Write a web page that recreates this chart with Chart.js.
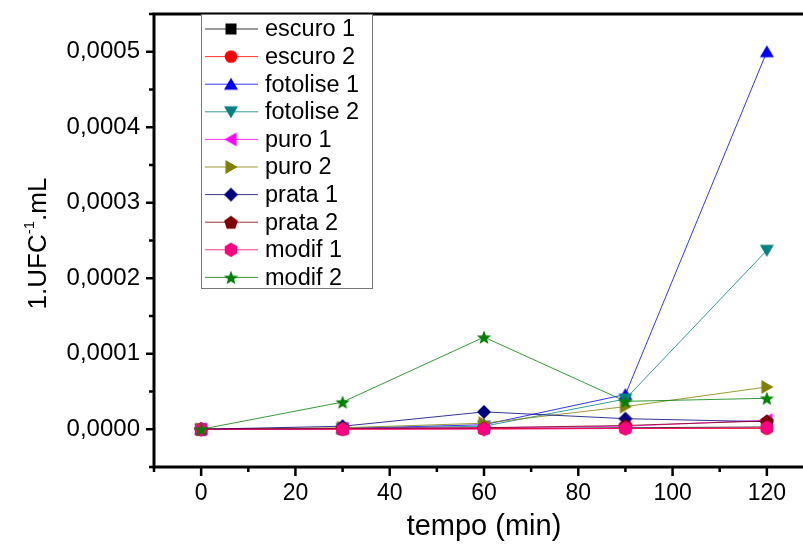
<!DOCTYPE html>
<html><head><meta charset="utf-8">
<script src="https://cdn.jsdelivr.net/npm/chart.js@4/dist/chart.umd.min.js"></script>
<style>html,body{margin:0;padding:0;overflow:hidden;background:#fff}#wrap{width:830px;height:547px;position:relative}</style>
</head><body><div id="wrap"><canvas id="c" width="830" height="547"></canvas></div>
<script>
const times = [0, 30, 60, 90, 120];
const seriesLabels = ['escuro 1','escuro 2','fotolise 1','fotolise 2','puro 1','puro 2','prata 1','prata 2','modif 1','modif 2'];
const escuro1   = [0, 0.000001, 0.000001, 0.000002, 0.000003];
const escuro2   = [0, 0, 0.000001, 0.000001, 0.000001];
const fotolise1 = [0, 0.000001, 0.000006, 0.000046, 0.000500];
const fotolise2 = [0, 0.000001, 0.000004, 0.000040, 0.000237];
const puro1     = [0, 0.000001, 0.000002, 0.000004, 0.000012];
const puro2     = [0, 0.000002, 0.000008, 0.000030, 0.000056];
const prata1    = [0, 0.000004, 0.000023, 0.000014, 0.000010];
const prata2    = [0, 0.000001, 0.000002, 0.000005, 0.000011];
const modif1    = [0, 0, 0, 0.000001, 0.000002];
const modif2    = [0, 0.000036, 0.000122, 0.000037, 0.000041];
const xTicks = [0, 20, 40, 60, 80, 100, 120];
const xMinorTicks = [-10, 10, 30, 50, 70, 90, 110, 130];
const yTicks = [0, 0.0001, 0.0002, 0.0003, 0.0004, 0.0005];
const yMinorTicks = [-0.00005, 0.00005, 0.00015, 0.00025, 0.00035, 0.00045, 0.00055];
const xTitle = 'tempo (min)';

const seriesValues = [escuro1, escuro2, fotolise1, fotolise2, puro1, puro2, prata1, prata2, modif1, modif2];
const colors = ['#000000','#ff0000','#0000ff','#008080','#ff00ff','#808000','#000080','#800000','#ff0080','#008000'];
const shapes = ['square','circle','triUp','triDown','triLeft','triRight','diamond','pentagon','hexagon','star'];

function poly(ctx, pts){ctx.beginPath();pts.forEach((p,i)=>i?ctx.lineTo(p[0],p[1]):ctx.moveTo(p[0],p[1]));ctx.closePath();ctx.fill();}
function regular(n, r, start, cx, cy){const p=[];for(let i=0;i<n;i++){const a=start+i*2*Math.PI/n;p.push([cx+r*Math.cos(a),cy+r*Math.sin(a)]);}return p;}
function makeMarker(shape, color){
  const s=16, c=document.createElement('canvas'); c.width=s; c.height=s;
  const ctx=c.getContext('2d'); ctx.fillStyle=color; const m=8;
  switch(shape){
    case 'square': ctx.fillRect(m-5.5,m-5.5,11,11); break;
    case 'circle': ctx.beginPath(); ctx.arc(m,m,6.3,0,2*Math.PI); ctx.fill(); break;
    case 'triUp': poly(ctx,[[m,1.5],[15,13.5],[1,13.5]]); break;
    case 'triDown': poly(ctx,[[1,2.5],[15,2.5],[m,14.5]]); break;
    case 'triLeft': poly(ctx,[[1.5,m],[13.5,1],[13.5,15]]); break;
    case 'triRight': poly(ctx,[[14.5,m],[2.5,1],[2.5,15]]); break;
    case 'diamond': poly(ctx,[[m,1],[15,m],[m,15],[1,m]]); break;
    case 'pentagon': poly(ctx,regular(5,7.2,-Math.PI/2,m,m+0.6)); break;
    case 'hexagon': poly(ctx,regular(6,7.2,-Math.PI/2,m,m)); break;
    case 'star': {const p=[];for(let i=0;i<10;i++){const r=i%2?3.2:7.5;const a=-Math.PI/2+i*Math.PI/5;p.push([m+r*Math.cos(a),m+0.8+r*Math.sin(a)]);}poly(ctx,p);} break;
  }
  return c;
}
const markers = shapes.map((s,i)=>makeMarker(s,colors[i]));

const datasets = seriesLabels.map((lab,i)=>({
  label: lab,
  data: times.map((t,j)=>({x:t, y:seriesValues[i][j]})),
  borderColor: colors[i],
  backgroundColor: colors[i],
  borderWidth: 0.8,
  pointStyle: markers[i],
  pointRadius: 7,
  order: seriesLabels.length - i,
  tension: 0
}));

const FONT = '"Liberation Sans", Arial, sans-serif';

const decor = {
  id: 'decor',
  afterDraw(chart){
    const ctx = chart.ctx, ca = chart.chartArea;
    const xs = chart.scales.x, ys = chart.scales.y;
    ctx.save();
    ctx.strokeStyle = '#000'; ctx.lineWidth = 3;
    ctx.strokeRect(ca.left, ca.top, ca.right-ca.left, ca.bottom-ca.top);
    ctx.lineWidth = 2.5;
    ctx.beginPath();
    xTicks.forEach(v=>{const px=xs.getPixelForValue(v);ctx.moveTo(px,ca.bottom);ctx.lineTo(px,ca.bottom+9);});
    xMinorTicks.forEach(v=>{const px=xs.getPixelForValue(v);ctx.moveTo(px,ca.bottom);ctx.lineTo(px,ca.bottom+5);});
    yTicks.forEach(v=>{const py=ys.getPixelForValue(v);ctx.moveTo(ca.left,py);ctx.lineTo(ca.left-8,py);});
    yMinorTicks.forEach(v=>{const py=ys.getPixelForValue(v);ctx.moveTo(ca.left,py);ctx.lineTo(ca.left-5,py);});
    ctx.stroke();

    // axis titles
    ctx.fillStyle = '#000';
    ctx.font = '29px ' + FONT; ctx.textAlign = 'center'; ctx.textBaseline = 'middle';
    ctx.fillText(xTitle, (ca.left+ca.right)/2, 527);
    ctx.save();
    ctx.translate(37, (ca.top+ca.bottom)/2 + 3);
    ctx.rotate(-Math.PI/2);
    const partA='1.UFC', sup='-1', partB='.mL';
    ctx.font = '26px ' + FONT; const wa=ctx.measureText(partA).width, wb=ctx.measureText(partB).width;
    ctx.font = '15px ' + FONT; const ws=ctx.measureText(sup).width;
    const tot = wa+ws+wb; let x0 = -tot/2;
    ctx.textAlign='left'; ctx.textBaseline='alphabetic';
    ctx.font = '26px ' + FONT; ctx.fillText(partA, x0, 9);
    ctx.font = '15px ' + FONT; ctx.fillText(sup, x0+wa, -3);
    ctx.font = '26px ' + FONT; ctx.fillText(partB, x0+wa+ws, 9);
    ctx.restore();

    // legend
    const lx=201, ly=14, lw=171, lh=274;
    ctx.fillStyle='#fff'; ctx.fillRect(lx,ly,lw,lh);
    ctx.strokeStyle='#777'; ctx.lineWidth=1;
    ctx.strokeRect(lx+0.5,ly+0.5,lw,lh);
    ctx.font='23.5px ' + FONT; ctx.textAlign='left'; ctx.textBaseline='middle';
    seriesLabels.forEach((lab,i)=>{
      const y = 29 + i*27.6;
      ctx.strokeStyle = colors[i]; ctx.lineWidth=0.8;
      ctx.beginPath(); ctx.moveTo(205,y); ctx.lineTo(258,y); ctx.stroke();
      const m = markers[i]; ctx.drawImage(m, 231-m.width/2, y-m.height/2);
      ctx.fillStyle='#000'; ctx.fillText(lab, 265, y+1);
    });
    ctx.restore();
  }
};

new Chart(document.getElementById('c'), {
  type: 'line',
  data: { datasets },
  options: {
    responsive: false,
    animation: false,
    devicePixelRatio: 1,
    layout: { padding: { top: 14, right: 16, left: 0, bottom: 0 } },
    plugins: { legend: { display: false }, tooltip: { enabled: false } },
    scales: {
      x: {
        type: 'linear', min: -10, max: 130,
        afterBuildTicks: s => { s.ticks = xTicks.map(v=>({value:v})); },
        afterFit: s => { s.height = 80; s.paddingLeft = 0; s.paddingRight = 0; },
        grid: { display: false, drawTicks: false },
        border: { display: false },
        ticks: { color: '#000', font: { size: 23, family: FONT }, padding: 13, maxRotation: 0, autoSkip: false }
      },
      y: {
        type: 'linear', min: -0.00005, max: 0.00055,
        afterBuildTicks: s => { s.ticks = yTicks.map(v=>({value:v})); },
        afterFit: s => { s.width = 154; s.paddingTop = 0; s.paddingBottom = 0; },
        grid: { display: false, drawTicks: false },
        border: { display: false },
        ticks: { color: '#000', font: { size: 24, family: FONT }, padding: 14,
          callback: v => Number(v).toFixed(4).replace('.', ',') }
      }
    }
  },
  plugins: [decor]
});
</script>
</body></html>
